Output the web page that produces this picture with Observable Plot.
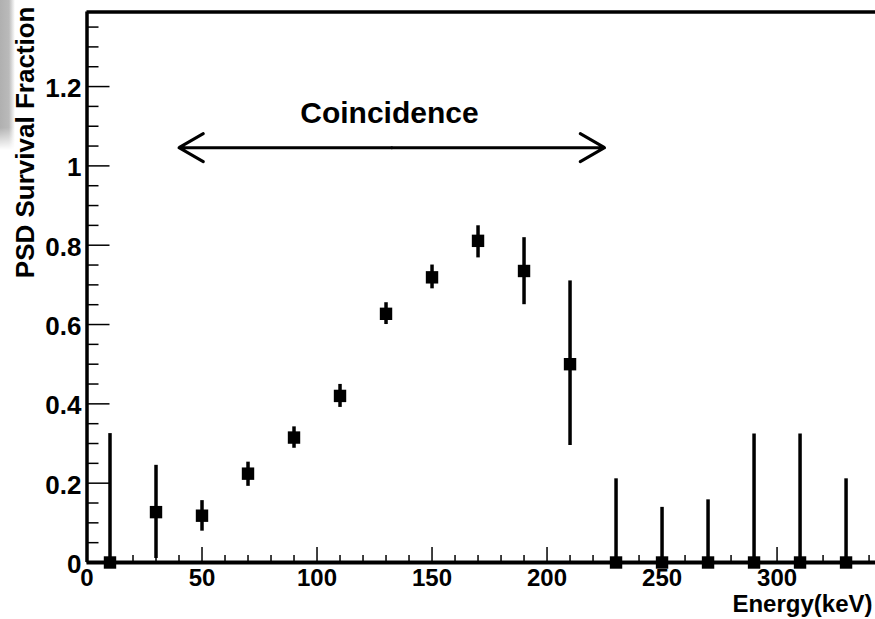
<!DOCTYPE html>
<html>
<head>
<meta charset="utf-8">
<script src="https://cdn.jsdelivr.net/npm/d3@7"></script>
<script src="https://cdn.jsdelivr.net/npm/@observablehq/plot@0.6"></script>
<style>
  html, body { margin: 0; padding: 0; background: #fff; }
  #wrap { position: relative; width: 875px; height: 619px; overflow: hidden; }
  #shade { position: absolute; left: 0; top: 0; width: 15px; height: 150px;
    background: linear-gradient(to right, #b0b0b0 0%, #bababa 60%, rgba(255,255,255,0) 100%);
    -webkit-mask-image: linear-gradient(to bottom, #000 85%, transparent 100%);
    mask-image: linear-gradient(to bottom, #000 85%, transparent 100%); }
</style>
</head>
<body>
<div id="wrap"><div id="shade"></div></div>
<script>
// ---- data ----
const energy   = [10, 30, 50, 70, 90, 110, 130, 150, 170, 190, 210, 230, 250, 270, 290, 310, 330];
const fraction = [0, 0.127, 0.118, 0.224, 0.315, 0.420, 0.627, 0.719, 0.811, 0.735, 0.500, 0, 0, 0, 0, 0, 0];
const errLow   = [0, 0.010, 0.079, 0.192, 0.288, 0.391, 0.600, 0.690, 0.768, 0.650, 0.295, 0, 0, 0, 0, 0, 0];
const errHigh  = [0.325, 0.245, 0.156, 0.253, 0.342, 0.449, 0.655, 0.750, 0.849, 0.819, 0.710, 0.211, 0.139, 0.158, 0.324, 0.324, 0.211];

const xTickLabels = [0, 50, 100, 150, 200, 250, 300];
const yTickLabels = [0, 0.2, 0.4, 0.6, 0.8, 1.0, 1.2];
const xDomain = [0, 342.8];
const yDomain = [0, 1.388];

const arrowSpan = [40, 225];
const arrowLevel = 1.046;
const annotation = "Coincidence";
const annotationPos = {x: 131.5, y: 1.132};

const xTitle = "Energy(keV)";
const yTitle = "PSD Survival Fraction";

// ---- derived ----
const points = energy.map((e, i) => ({e, f: fraction[i], lo: errLow[i], hi: errHigh[i]}));
const xMinor = d3.range(0, 341, 10).filter(v => v % 50 !== 0);
const yMinor = d3.range(0, 1.37, 0.05).filter(v => Math.abs(v / 0.2 - Math.round(v / 0.2)) > 1e-6);
const mid = (arrowSpan[0] + arrowSpan[1]) / 2;
const arrows = arrowSpan.map(end => ({x1: mid, x2: end, y: arrowLevel}));

const W = 875, H = 619;
const mL = 86.5, mT = 11.5, mB = 57, mR = 0;
const plotW = W - mL - mR, plotH = H - mT - mB;
const font = "'Liberation Sans', Arial, Helvetica, sans-serif";

const chart = Plot.plot({
  width: W,
  height: H,
  marginLeft: mL,
  marginTop: mT,
  marginBottom: mB,
  marginRight: mR,
  style: {background: "#fff", fontFamily: font, color: "#000", overflow: "visible"},
  x: {domain: xDomain, axis: null},
  y: {domain: yDomain, axis: null},
  marks: [
    // minor and major ticks (drawn inward like ROOT)
    Plot.tickX(xMinor, {x: d => d, insetTop: plotH - 7, stroke: "#000", strokeWidth: 1.5}),
    Plot.tickX(xTickLabels, {x: d => d, insetTop: plotH - 15, stroke: "#000", strokeWidth: 1.5}),
    Plot.tickY(yMinor, {y: d => d, insetRight: plotW - 12, stroke: "#000", strokeWidth: 1.5}),
    Plot.tickY(yTickLabels, {y: d => d, insetRight: plotW - 23, stroke: "#000", strokeWidth: 1.5}),
    // frame
    Plot.ruleY([yDomain[1]], {stroke: "#000", strokeWidth: 3.5}),
    Plot.ruleX([xDomain[0]], {stroke: "#000", strokeWidth: 3.5}),
    Plot.ruleY([yDomain[0]], {stroke: "#000", strokeWidth: 4}),
    // tick labels
    Plot.axisX({ticks: xTickLabels, tickSize: 0, tickPadding: 6, fontSize: 24, fontWeight: "bold", label: null, tickFormat: d3.format("~g")}),
    Plot.axisY({ticks: yTickLabels, tickSize: 0, tickPadding: 5.5, fontSize: 26, fontWeight: "bold", label: null, tickFormat: d3.format("~g"), dy: 2}),
    // error bars
    Plot.ruleX(points, {x: "e", y1: "lo", y2: "hi", stroke: "#000", strokeWidth: 3.5}),
    // markers
    Plot.dot(points, {x: "e", y: "f", symbol: "square", r: 7, fill: "#000", stroke: "none"}),
    // annotation
    Plot.arrow(arrows, {x1: "x1", y1: "y", x2: "x2", y2: "y", stroke: "#000", strokeWidth: 3, headLength: 14, headAngle: 60, bend: 0}),
    Plot.text([annotation], {x: () => annotationPos.x, y: () => annotationPos.y, text: d => d, fontSize: 30, fontWeight: "bold", lineAnchor: "middle", textAnchor: "middle", fill: "#000"}),
    // axis titles
    Plot.text([xTitle], {frameAnchor: "bottom-right", text: d => d, fontSize: 24, fontWeight: "bold", textAnchor: "end", lineAnchor: "middle", dx: -3, dy: 42, fill: "#000"}),
    Plot.text([yTitle], {frameAnchor: "top-left", text: d => d, fontSize: 26, fontWeight: "bold", textAnchor: "end", lineAnchor: "middle", rotate: -90, dx: -61.5, dy: -5.5, fill: "#000"})
  ]
});
document.getElementById("wrap").insertBefore(chart, document.getElementById("shade"));
</script>
</body>
</html>
